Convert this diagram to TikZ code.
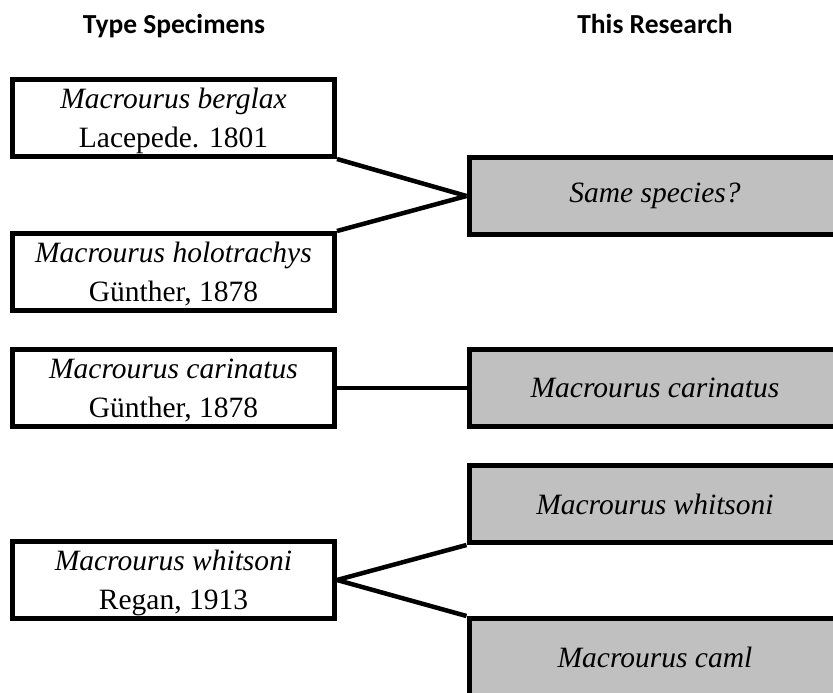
\documentclass[tikz,border=0pt]{standalone}
\usepackage{fontspec}
\setmainfont{Liberation Serif}
\newfontfamily\headfont{Carlito}
\usepackage{tikz}
\usetikzlibrary{positioning}
\definecolor{boxgray}{RGB}{192,192,192}

\tikzset{
  boxbase/.style={draw, line width=5pt, minimum height=77pt, inner sep=0pt,
    align=center, font=\fontsize{29.5}{39}\selectfont},
  specbox/.style={boxbase, minimum width=322pt, text depth=0pt},
  resbox/.style={boxbase, fill=boxgray, minimum width=372pt},
  link/.style={line width=4.5pt},
  head/.style={font=\headfont\bfseries\fontsize{27.5}{30}\selectfont, anchor=base}
}

\begin{document}
\begin{tikzpicture}[x=1pt,y=-1pt]
  \useasboundingbox (0,0) rectangle (833,693);
  \clip (0,0) rectangle (833,693);
  % column titles
  \node[head] (thead) at (174,34) {Type Specimens};
  \node[head] (rhead) at (655,34) {This Research};
  % type specimens
  \node[specbox] (berglax) at (173.5,118) {\textit{Macrourus berglax}\\Lacepede. 1801};
  \node[specbox] (holo) at (173.5,272) {\textit{Macrourus holotrachys}\\Günther, 1878};
  \node[specbox] (carin) at (173.5,388) {\textit{Macrourus carinatus}\\Günther, 1878};
  \node[specbox] (whit) at (173.5,580) {\textit{Macrourus whitsoni}\\Regan, 1913};
  % this research
  \node[resbox] (same) at (655,196) {\textit{Same species?}};
  \node[resbox] (rcarin) at (655,388) {\textit{Macrourus carinatus}};
  \node[resbox] (rwhit) at (655,504) {\textit{Macrourus whitsoni}};
  \node[resbox] (caml) at (655,657) {\textit{Macrourus caml}};
  % links
  \draw[link] (berglax.south east) -- (same.west);
  \draw[link] (holo.north east) -- (same.west);
  \draw[link] (carin.east) -- (rcarin.west);
  \draw[link] (whit.east) -- (rwhit.south west);
  \draw[link] (whit.east) -- (caml.north west);
\end{tikzpicture}
\end{document}
